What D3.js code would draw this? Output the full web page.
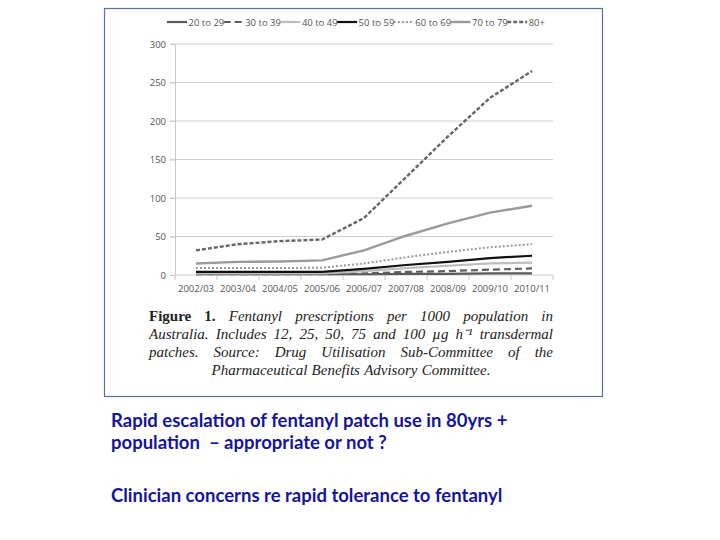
<!DOCTYPE html>
<html><head><meta charset="utf-8">
<script src="https://cdn.jsdelivr.net/npm/d3@7/dist/d3.min.js"></script>
<style>body{margin:0;background:#fff}svg{display:block}</style>
</head><body>
<svg id="c" width="720" height="540"></svg>
<script>
const years = ["2002/03","2003/04","2004/05","2005/06","2006/07","2007/08","2008/09","2009/10","2010/11"];
const seriesNames = ["20 to 29","30 to 39","40 to 49","50 to 59","60 to 69","70 to 79","80+"];
const s20 = [1,1,1,1,1,1.5,1.5,2,2];
const s30 = [1,1,1,1,2,4,5,7,8.5];
const s40 = [2,2,2,2,5,9,12,15,16];
const s50 = [4,4,4,4,8,13,17,22,25];
const s60 = [9,9,9,9.5,15,23,30,36,40];
const s70 = [15,17,17.5,19,32,51,67,81,90];
const s80 = [32,40,44,46,74,127,180,230,265];
const yTicks = [0,50,100,150,200,250,300];
const captionBold = "Figure 1.";
const captionText = "Fentanyl prescriptions per 1000 population in Australia. Includes 12, 25, 50, 75 and 100 µg h⁻¹ transdermal patches. Source: Drug Utilisation Sub-Committee of the Pharmaceutical Benefits Advisory Committee.";
const bottomLines = ["Rapid escalation of fentanyl patch use in 80yrs +","population  – appropriate or not ?","","Clinician concerns re rapid tolerance to fentanyl"];

const seriesData = [s20,s30,s40,s50,s60,s70,s80];
const styles = [
  {c:"#5a5a5a", w:2.2, d:null},
  {c:"#5f5f5f", w:2.2, d:"7,4"},
  {c:"#bdbdbd", w:2.2, d:null},
  {c:"#111111", w:2.2, d:null},
  {c:"#9a9a9a", w:2, d:"2,2"},
  {c:"#9a9a9a", w:2.4, d:null},
  {c:"#666666", w:2.4, d:"4,2"}
];

const svg = d3.select("#c");
svg.append("rect").attr("x",104.5).attr("y",8.5).attr("width",498).attr("height",388)
  .attr("fill","#fff").attr("stroke","#5c6ea6").attr("stroke-width",1.2);

const x = d3.scaleBand().domain(years).range([175,553]);
const y = d3.scaleLinear().domain([0,300]).range([275,44]);

// grid
svg.append("g").selectAll("line").data(yTicks.filter(t=>t>0)).join("line")
  .attr("x1",170).attr("x2",553).attr("y1",d=>y(d)).attr("y2",d=>y(d))
  .attr("stroke","#d0d0d0").attr("stroke-width",1);

const yAxis = svg.append("g").attr("transform","translate(175,0)")
  .call(d3.axisLeft(y).tickValues(yTicks).tickSize(5).tickPadding(4));
yAxis.select(".domain").attr("stroke","#c8c8c8");
yAxis.selectAll(".tick line").attr("stroke","#c8c8c8");
yAxis.selectAll("text").attr("fill","#555").style("font-family","Open Sans, sans-serif").style("font-size","9.5px");

const xg = svg.append("g").attr("transform","translate(0,275)");
xg.append("line").attr("x1",175).attr("x2",553).attr("stroke","#c8c8c8");
xg.selectAll("line.tk").data(d3.range(years.length+1)).join("line").attr("class","tk")
  .attr("x1",i=>175+i*x.step()).attr("x2",i=>175+i*x.step()).attr("y1",0).attr("y2",5).attr("stroke","#c8c8c8");
xg.selectAll("text").data(years).join("text")
  .attr("x",d=>x(d)+x.bandwidth()/2).attr("y",16.5).attr("text-anchor","middle")
  .attr("fill","#555").style("font-family","Open Sans, sans-serif").style("font-size","9.5px").text(d=>d);

const line = d3.line().x((d,i)=>x(years[i])+x.bandwidth()/2).y(d=>y(d));
seriesData.forEach((s,k)=>{
  svg.append("path").datum(s).attr("d",line).attr("fill","none")
    .attr("stroke",styles[k].c).attr("stroke-width",styles[k].w)
    .attr("stroke-dasharray",styles[k].d);
});

// legend
const lg = svg.append("g");
seriesNames.forEach((n,k)=>{
  const x0 = 167 + k*56.7;
  lg.append("line").attr("x1",x0).attr("x2",x0+20).attr("y1",22).attr("y2",22)
    .attr("stroke",styles[k].c).attr("stroke-width",styles[k].w).attr("stroke-dasharray",styles[k].d);
  lg.append("text").attr("x",x0+21.5).attr("y",25.5).attr("fill","#555")
    .style("font-family","Open Sans, sans-serif").style("font-size","9.5px").text(n);
});

// caption, justified
const cap = svg.append("g").style("font-family","Liberation Serif, serif").style("font-size","15px").attr("fill","#222");
const words = (captionBold+" "+captionText).split(" ");
const left = 149, right = 553, lineH = 18, base0 = 321;
function measure(w,i){
  const t = cap.append("text").text(w).style("font-weight", i<2?"bold":"normal").style("font-style", i<2?"normal":"italic");
  const wd = t.node().getComputedTextLength(); t.remove(); return wd;
}
const spaceW = 4.2;
const ws = words.map((w,i)=>({w,i,wd:measure(w,i)}));
let lines=[], cur=[], curW=0;
ws.forEach(o=>{
  const add = cur.length? curW+spaceW+o.wd : o.wd;
  if(add>right-left && cur.length){lines.push(cur);cur=[o];curW=o.wd;}
  else {cur.push(o);curW=add;}
});
if(cur.length) lines.push(cur);
lines.forEach((ln,li)=>{
  const yb = base0+li*lineH;
  const tot = d3.sum(ln,o=>o.wd);
  const last = li===lines.length-1;
  let gap = last? spaceW : (right-left-tot)/Math.max(1,ln.length-1);
  let xs = left;
  if(last){ const lw = tot+spaceW*(ln.length-1); xs = (left+right)/2 - lw/2; }
  ln.forEach(o=>{
    cap.append("text").attr("x",xs).attr("y",yb).text(o.w)
      .style("font-weight", o.i<2?"bold":"normal").style("font-style", o.i<2?"normal":"italic");
    xs += o.wd+gap;
  });
});

// bottom text
svg.append("g").selectAll("text").data(bottomLines).join("text")
  .attr("x",111).attr("y",(d,i)=>427+i*22 + (i===3?9:0))
  .attr("fill","#14149c").style("font-family","Lato, sans-serif").style("font-weight","bold").style("font-size","18.5px")
  .attr("xml:space","preserve").style("white-space","pre").text(d=>d);
</script>
</body></html>
